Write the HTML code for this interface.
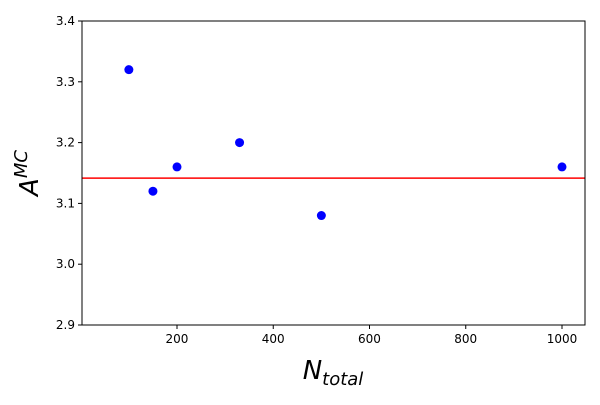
<!DOCTYPE html>
<html><head><meta charset="utf-8"><style>
body{margin:0;background:#fff;}
svg{font-family:"DejaVu Sans","Liberation Sans",sans-serif;}
</style></head><body>
<svg id="chart" width="600" height="400">
<rect width="600" height="400" fill="#fff"/>
<g id="plot"></g>
</svg>
<script>
const xs = [100, 150, 200, 330, 500, 1000];
const ys = [3.32, 3.12, 3.16, 3.2, 3.08, 3.16];
const refValue = [3.14159];
const xTicks = [200, 400, 600, 800, 1000];
const yTicks = [2.9, 3.0, 3.1, 3.2, 3.3, 3.4];
const L=82,R=585,T=21,B=325, xmin=2.6, xmax=1047.8, ymin=2.9, ymax=3.4;
const sx=v=>L+(v-xmin)/(xmax-xmin)*(R-L);
const sy=v=>B-(v-ymin)/(ymax-ymin)*(B-T);
const g=document.getElementById('plot');
const NS='http://www.w3.org/2000/svg';
function mk(t,a){const e=document.createElementNS(NS,t);for(const k in a)e.setAttribute(k,a[k]);g.appendChild(e);return e;}
xTicks.forEach(v=>{
 const t=mk('line',{x1:sx(v),x2:sx(v),y1:B,y2:B+4,stroke:'#000'});
 
 
 const l=mk('text',{x:sx(v),y:B+18,'font-size':'12','text-anchor':'middle'});
 l.textContent=v;
 
 
});
yTicks.forEach(v=>{
 const t=mk('line',{x1:L-4,x2:L,y1:sy(v),y2:sy(v),stroke:'#000'});
 
 
 const l=mk('text',{x:L-7,y:sy(v)+4,'font-size':'12','text-anchor':'end'});
 l.textContent=v.toFixed(1);
 
 
});
refValue.forEach(v=>{
 const r=mk('line',{x1:L,x2:R,y1:sy(v),y2:sy(v),stroke:'#ff0000','stroke-width':1.5});
 
 
});
xs.forEach((x,i)=>{
 const c=mk('circle',{cx:sx(x),cy:sy(ys[i]),r:4.5,fill:'#0000ff'});
 
 
});
const f=mk('rect',{x:L,y:T,width:R-L,height:B-T,fill:'none',stroke:'#000','stroke-width':1});


const xl=mk('text',{x:333,y:379,'font-size':'26','text-anchor':'middle','font-style':'italic'});
xl.innerHTML='N<tspan font-size="18" dy="6">total</tspan>';


const yl=mk('text',{x:0,y:0,'font-size':'26','text-anchor':'middle','font-style':'italic',transform:'translate(38,173) rotate(-90)'});
yl.innerHTML='A<tspan font-size="18" dy="-11">MC</tspan>';


</script>
</body></html>
